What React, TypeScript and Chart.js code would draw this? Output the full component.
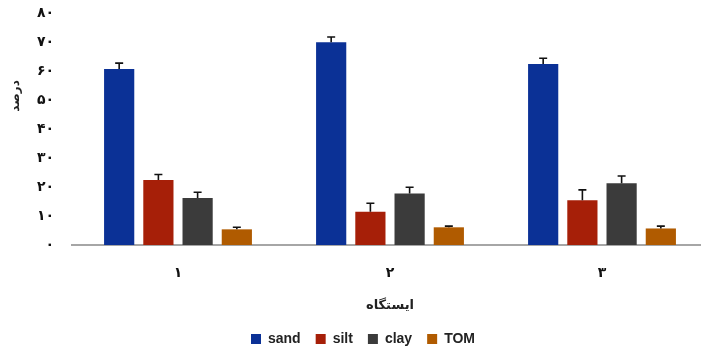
import React, { useEffect, useRef } from "react";
import { Chart, registerables } from "chart.js";

Chart.register(...registerables);

const categories = ["۱", "۲", "۳"];
const seriesNames = ["sand", "silt", "clay", "TOM"];
const sand = [60.7, 69.9, 62.4];
const silt = [22.4, 11.5, 15.4];
const clay = [16.2, 17.8, 21.3];
const tom = [5.4, 6.1, 5.7];
const sandErr = [2.0, 1.8, 2.0];
const siltErr = [1.9, 2.9, 3.6];
const clayErr = [2.0, 2.1, 2.5];
const tomErr = [0.7, 0.4, 0.8];
const yTicks = [0, 10, 20, 30, 40, 50, 60, 70, 80];
const colors = ["#0B3196", "#A61F08", "#3B3B3B", "#B05B00"];
const yTitle = "درصد";
const xTitle = "ایستگاه";

const faDigits = "۰۱۲۳۴۵۶۷۸۹";
const toFa = (n: number) =>
  String(n).replace(/[0-9]/g, (d) => faDigits[Number(d)]);

const errorBars = {
  id: "errorBars",
  afterDatasetsDraw(chart: any) {
    const { ctx } = chart;
    const yScale = chart.scales.y;
    chart.data.datasets.forEach((ds: any, i: number) => {
      const meta = chart.getDatasetMeta(i);
      meta.data.forEach((bar: any, j: number) => {
        const v = ds.data[j];
        const e = ds.errors[j];
        const yTop = yScale.getPixelForValue(v + e);
        ctx.save();
        ctx.strokeStyle = "#111";
        ctx.lineWidth = 1.6;
        ctx.beginPath();
        ctx.moveTo(bar.x, bar.y);
        ctx.lineTo(bar.x, yTop);
        ctx.moveTo(bar.x - 4, yTop);
        ctx.lineTo(bar.x + 4, yTop);
        ctx.stroke();
        ctx.restore();
      });
    });
  },
};

const yTitlePlugin = {
  id: "yTitlePlugin",
  afterDraw(chart: any) {
    const { ctx } = chart;
    ctx.save();
    ctx.translate(16, 96);
    ctx.rotate(-Math.PI / 2);
    ctx.font = "bold 12px 'DejaVu Sans'";
    ctx.fillStyle = "#222";
    ctx.textAlign = "center";
    ctx.textBaseline = "middle";
    ctx.fillText(yTitle, 0, 0);
    ctx.restore();
  },
};

export default function App() {
  const ref = useRef<HTMLCanvasElement>(null);
  useEffect(() => {
    document.body.style.margin = "0";
    document.body.style.overflow = "hidden";
    const values = [sand, silt, clay, tom];
    const errs = [sandErr, siltErr, clayErr, tomErr];
    const chart = new Chart(ref.current!, {
      type: "bar",
      data: {
        labels: categories,
        datasets: seriesNames.map((name, i) => ({
          label: name,
          data: values[i],
          errors: errs[i],
          backgroundColor: colors[i],
          borderWidth: 0,
          categoryPercentage: 0.74,
          barPercentage: 0.77,
        })) as any,
      },
      options: {
        animation: false,
        responsive: false,
        devicePixelRatio: 1,
        layout: { padding: { top: 13, left: 18, right: 0, bottom: -8 } },
        plugins: {
          legend: {
            position: "bottom",
            labels: {
              boxWidth: 10,
              boxHeight: 10,
              padding: 15,
              color: "#222",
              font: { family: "'Liberation Sans'", size: 14, weight: "bold" },
            },
          },
          tooltip: { enabled: false },
        },
        scales: {
          x: {
            grid: { display: false },
            border: { display: true, color: "#A6A6A6", width: 2 },
            ticks: {
              padding: 12,
              color: "#111",
              font: { family: "'DejaVu Sans'", size: 14, weight: "bold" },
            },
            title: {
              display: true,
              text: xTitle,
              color: "#222",
              font: { family: "'DejaVu Sans'", size: 13, weight: "bold" },
              padding: { top: 0, bottom: 4 },
            },
            afterFit: (s: any) => {
              s.height = 72;
            },
          },
          y: {
            min: 0,
            max: 80,
            grid: { display: false },
            border: { display: false },
            afterBuildTicks: (s: any) => {
              s.ticks = yTicks.map((v) => ({ value: v }));
            },
            ticks: {
              padding: 10,
              color: "#111",
              font: { family: "'DejaVu Sans'", size: 14, weight: "bold" },
              callback: (v: any) => toFa(Number(v)),
            },
            afterFit: (s: any) => {
              s.width = 54;
              s.paddingTop = 0;
              s.paddingBottom = 0;
            },
          },
        },
      },
      plugins: [errorBars, yTitlePlugin],
    } as any);
    return () => chart.destroy();
  }, []);
  return (
    <div style={{ width: 708, height: 348, position: "relative" }}>
      <canvas ref={ref} width={708} height={348} />
    </div>
  );
}
